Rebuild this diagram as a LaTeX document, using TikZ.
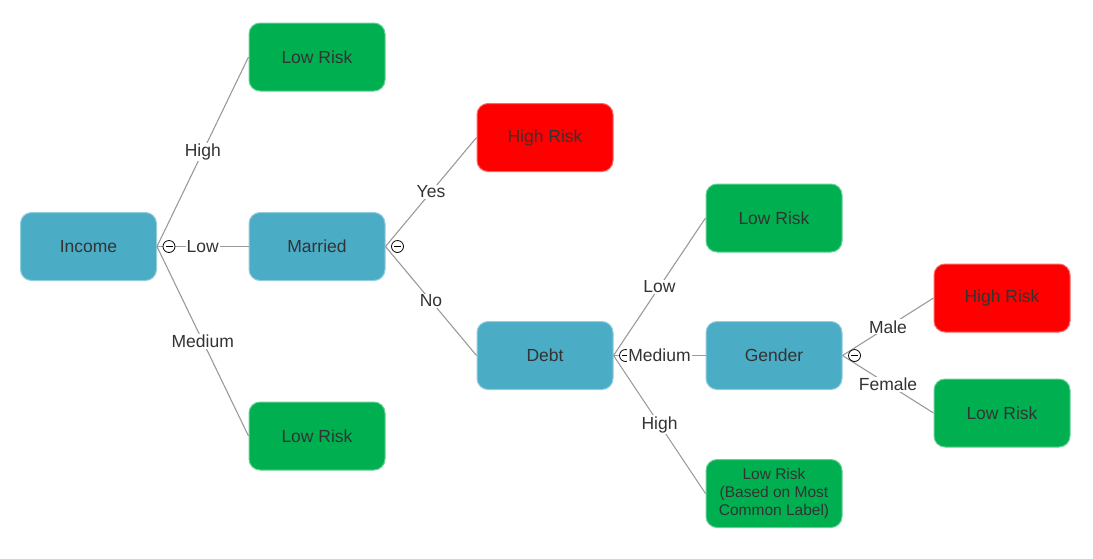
\documentclass[tikz,border=0pt]{standalone}
\usepackage{fontspec}
\setmainfont{Liberation Sans}
\definecolor{tealc}{HTML}{4BACC6}
\definecolor{greenc}{HTML}{00B050}
\definecolor{redc}{HTML}{FF0000}
\definecolor{txt}{HTML}{333333}
\definecolor{edgec}{HTML}{9A9A9A}
\tikzset{
  box/.style={rounded corners=11pt, minimum width=136pt, minimum height=68pt, inner sep=0pt,
    text=txt, font=\fontsize{17.5}{20}\selectfont, line width=1pt},
  attr/.style={box, fill=tealc, draw=tealc!60!white},
  good/.style={box, fill=greenc, draw=greenc!60!white},
  bad/.style={box, fill=redc, draw=redc!60!white},
  edge/.style={draw=edgec, line width=1.1pt},
  lbl/.style={fill=white, inner sep=1pt, text=txt, font=\fontsize{17.5}{20}\selectfont},
  collapse/.style={circle, draw=black, fill=white, line width=0.8pt, minimum size=12pt, inner sep=0pt,
    path picture={\draw[line width=0.8pt] ([xshift=-3.5pt]path picture bounding box.center) -- ([xshift=3.5pt]path picture bounding box.center);}}
}
\begin{document}
\begin{tikzpicture}[x=1pt,y=-1pt]
\useasboundingbox (0,0) rectangle (1093,558);
% nodes
\node[attr] (income) at (88.5,246.5) {\raisebox{-1pt}{Income}};
\node[good] (lr1) at (317,57) {\raisebox{-1pt}{Low Risk}};
\node[attr] (married) at (317,246.5) {\raisebox{-1pt}{Married}};
\node[good] (lr2) at (317,436) {\raisebox{-1pt}{Low Risk}};
\node[bad] (hr1) at (545,137.5) {\raisebox{-1pt}{High Risk}};
\node[attr] (debt) at (545,355.5) {\raisebox{-1pt}{Debt}};
\node[good] (lr3) at (774,218) {\raisebox{-1pt}{Low Risk}};
\node[attr] (gender) at (774,355.5) {\raisebox{-1pt}{Gender}};
\node[good, align=center, font=\fontsize{15.5}{18}\selectfont] (lr4) at (774,493.5) {Low Risk\\(Based on Most\\Common Label)};
\node[bad] (hr2) at (1002,298) {\raisebox{-1pt}{High Risk}};
\node[good] (lr5) at (1002,413) {\raisebox{-1pt}{Low Risk}};
% edges
\draw[edge] (income.east) -- (lr1.west);
\draw[edge] (income.east) -- (married.west);
\draw[edge] (income.east) -- (lr2.west);
\draw[edge] (married.east) -- (hr1.west);
\draw[edge] (married.east) -- (debt.west);
\draw[edge] (debt.east) -- (lr3.west);
\draw[edge] (debt.east) -- (gender.west);
\draw[edge] (debt.east) -- (lr4.west);
\draw[edge] (gender.east) -- (hr2.west);
\draw[edge] (gender.east) -- (lr5.west);
% collapse icons
\node[collapse] (c1) at ([xshift=12pt]income.east) {};
\node[collapse] (c2) at ([xshift=12pt]married.east) {};
\node[collapse] (c3) at ([xshift=12pt]debt.east) {};
\node[collapse] (c4) at ([xshift=12pt]gender.east) {};
% labels
\path (income.east) -- node[lbl] (l1) {High} (lr1.west);
\path (income.east) -- node[lbl] (l2) {Low} (married.west);
\path (income.east) -- node[lbl] (l3) {Medium} (lr2.west);
\path (married.east) -- node[lbl] (l4) {Yes} (hr1.west);
\path (married.east) -- node[lbl] (l5) {No} (debt.west);
\path (debt.east) -- node[lbl] (l6) {Low} (lr3.west);
\path (debt.east) -- node[lbl] (l7) {Medium} (gender.west);
\path (debt.east) -- node[lbl] (l8) {High} (lr4.west);
\path (gender.east) -- node[lbl] (l9) {Male} (hr2.west);
\path (gender.east) -- node[lbl] (l10) {Female} (lr5.west);
\end{tikzpicture}
\end{document}
